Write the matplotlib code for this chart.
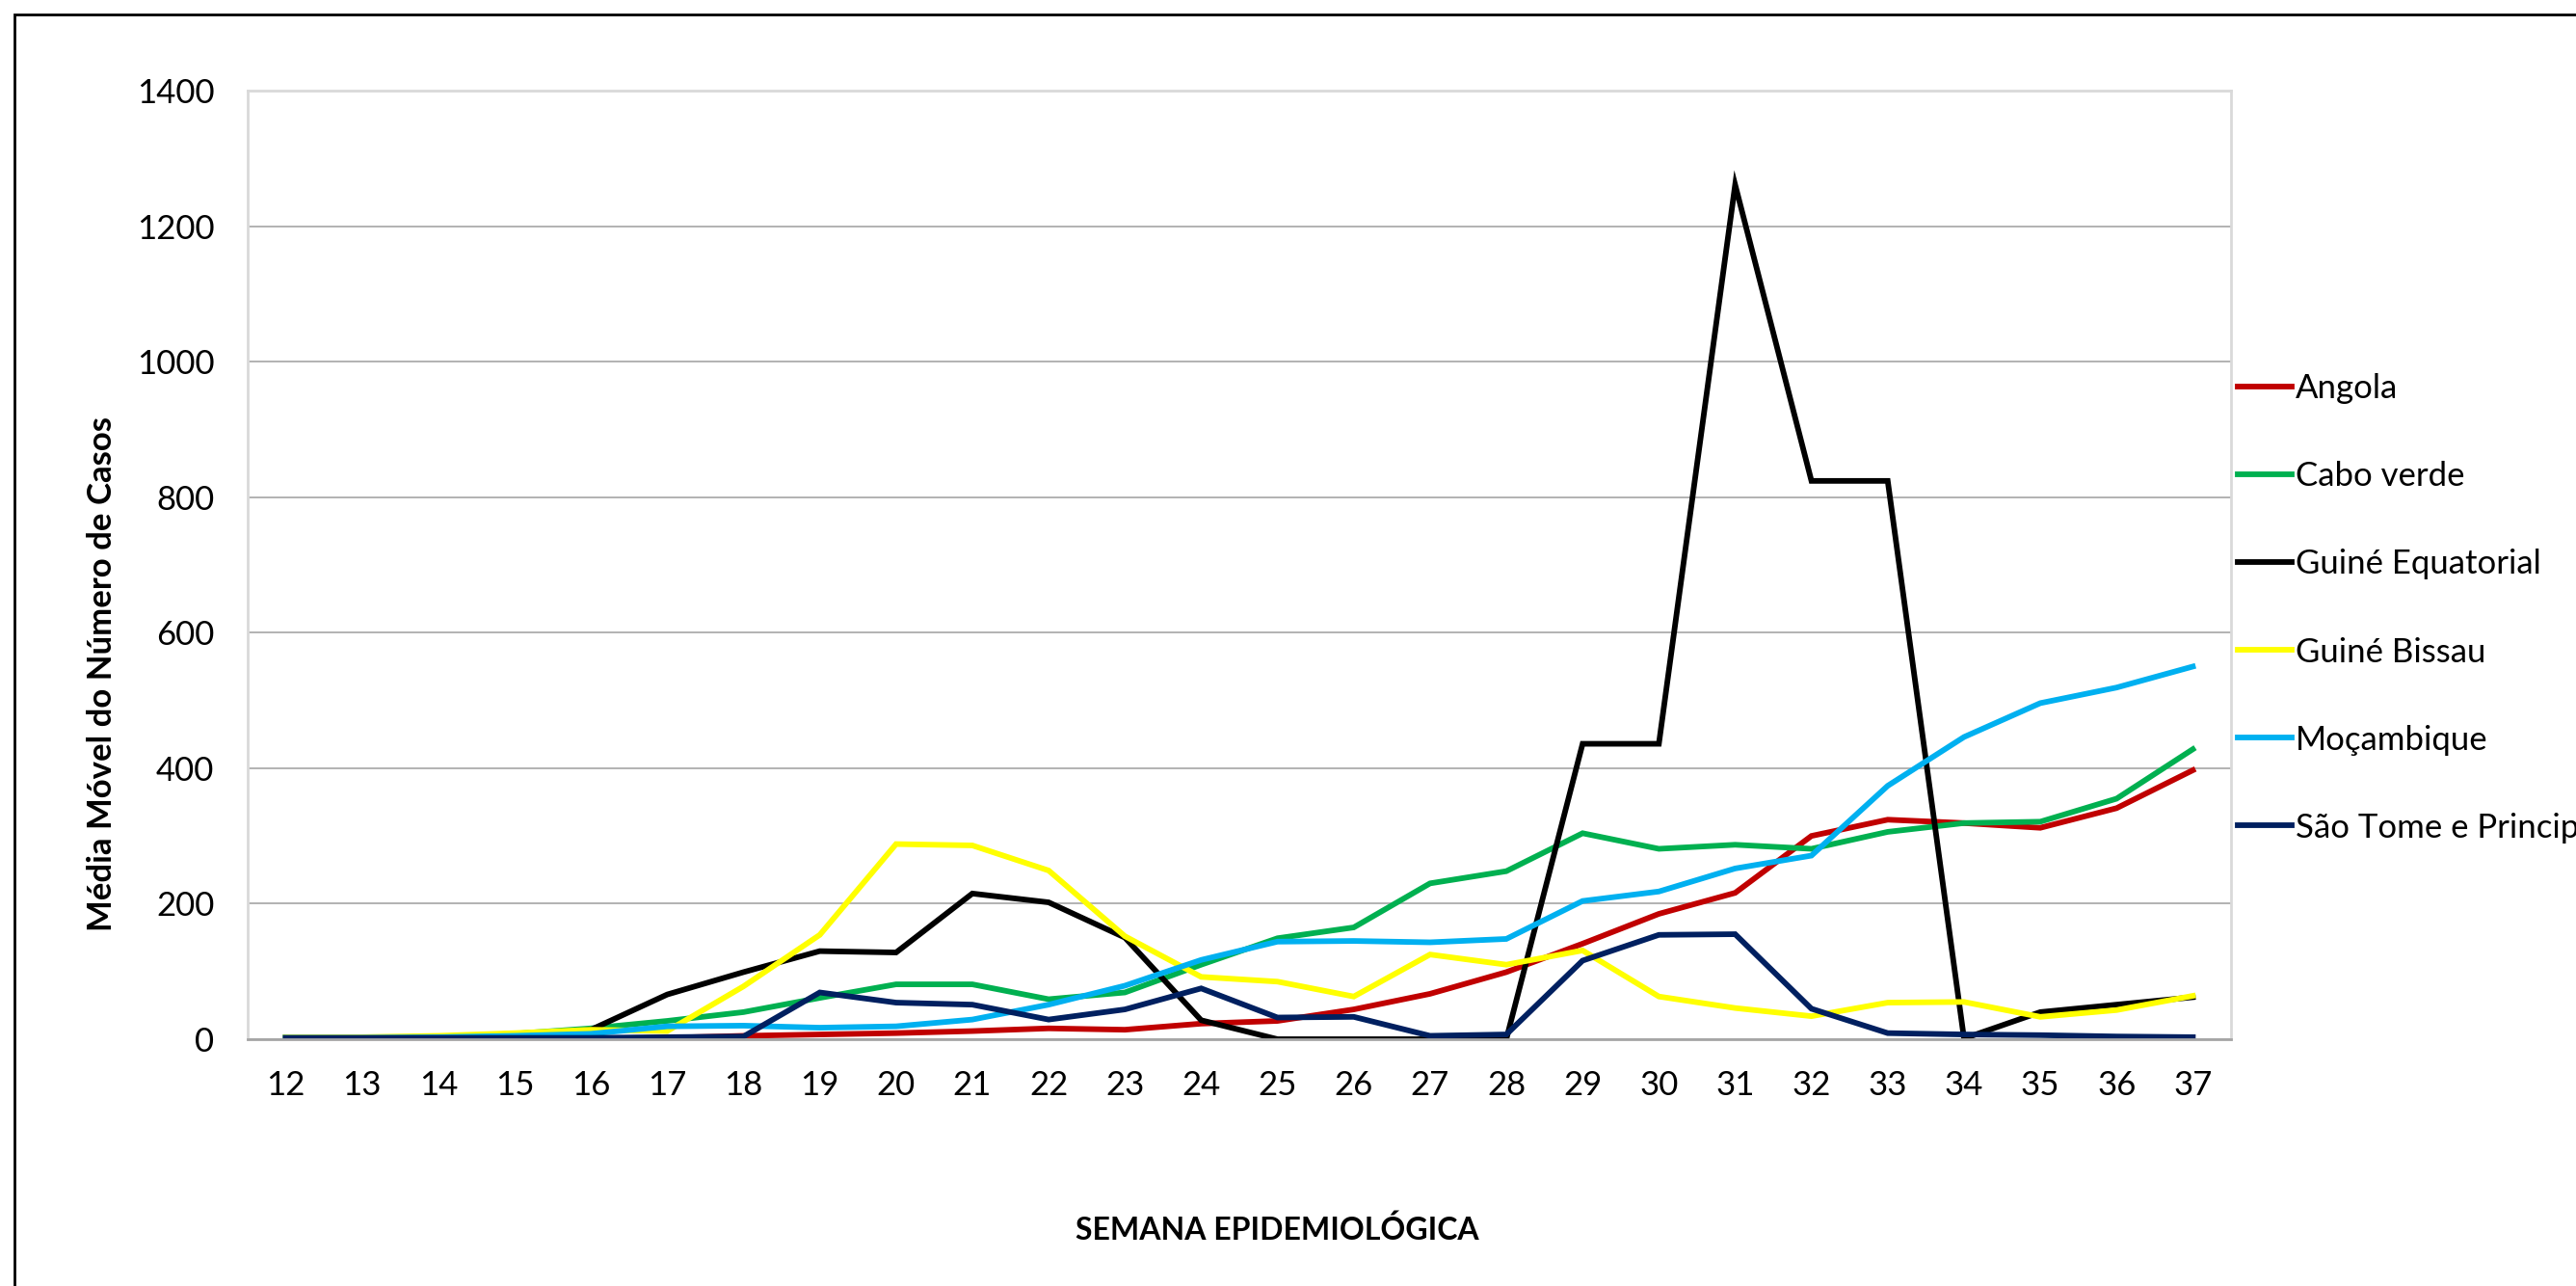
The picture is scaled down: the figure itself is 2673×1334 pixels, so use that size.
import matplotlib
matplotlib.use("Agg")
import matplotlib.pyplot as plt
from matplotlib.patches import Rectangle

# epidemiological weeks
weeks = list(range(12, 38))

angola = [1, 1, 1, 1, 1, 2, 5, 7, 9, 12, 16, 14, 23, 27, 44, 67, 99, 141, 185, 216,
          300, 324, 319, 312, 341, 397]
cabo_verde = [3, 2, 3, 8, 16, 27, 40, 61, 81, 81, 59, 69, 110, 149, 165, 230, 248, 304,
              281, 287, 281, 306, 319, 321, 355, 428]
guine_equatorial = [2, 2, 2, 2, 14, 66, 99, 130, 128, 215, 202, 150, 28, 0, 0, 0, 0, 436,
                    436, 1261, 824, 824, 1, 40, 51, 62]
guine_bissau = [3, 3, 5, 9, 14, 12, 78, 154, 288, 286, 249, 152, 92, 85, 63, 125, 110, 131,
                63, 46, 34, 54, 55, 33, 43, 64]
mocambique = [2, 2, 3, 5, 8, 19, 20, 17, 19, 29, 51, 79, 117, 144, 145, 143, 148, 204, 218,
              252, 271, 374, 446, 496, 519, 550]
sao_tome = [2, 2, 2, 2, 2, 3, 4, 69, 54, 51, 29, 44, 75, 32, 33, 5, 7, 116, 154, 155, 45, 9,
            7, 6, 4, 3]

series = [
    ("Angola", angola, "#C00000"),
    ("Cabo verde", cabo_verde, "#00B050"),
    ("Guiné Equatorial", guine_equatorial, "#000000"),
    ("Guiné Bissau", guine_bissau, "#FFFF00"),
    ("Moçambique", mocambique, "#00B0F0"),
    ("São Tome e Principe", sao_tome, "#002060"),
]

W, H = 2673, 1334
plt.rcParams['font.family'] = ['Lato', 'DejaVu Sans']
fs = 25

fig = plt.figure(figsize=(W / 100, H / 100), dpi=100)
ax = fig.add_axes([257 / W, 1 - 1078 / H, (2315 - 257) / W, (1078 - 94) / H])

x = list(range(len(weeks)))
for name, vals, col in series:
    ax.plot(x, vals, color=col, lw=4.2, label=name, solid_joinstyle='miter')

ax.set_xlim(-0.5, len(weeks) - 0.5)
ax.set_ylim(0, 1400)
ax.set_yticks(range(0, 1401, 200))
ax.set_xticks(x)
ax.set_xticklabels([str(w) for w in weeks])
ax.tick_params(axis='both', length=0, labelsize=fs)
ax.tick_params(axis='y', pad=25)
ax.tick_params(axis='x', pad=23)
ax.grid(axis='y', color='#a6a6a6', lw=1.2)
ax.set_axisbelow(True)
for s in ax.spines.values():
    s.set_color('#d9d9d9')
    s.set_linewidth(2)
ax.spines['bottom'].set_color('#a6a6a6')

fig.text(106 / W, 1 - 699 / H, "Média Móvel do Número de Casos", rotation=90,
         ha='center', va='center', fontsize=25, fontweight='bold')
fig.text(1325 / W, 1 - 1276 / H, "SEMANA EPIDEMIOLÓGICA", ha='center', va='center',
         fontsize=23, fontweight='bold')

ax.legend(loc='center left', bbox_to_anchor=(2322 / W, 1 - 631 / H),
          bbox_transform=fig.transFigure, frameon=False, fontsize=fs,
          borderaxespad=0, borderpad=0, handlelength=1.6, handletextpad=0.12,
          labelspacing=1.70)

# outer chart border (cropped at right and bottom)
fig.patches.append(Rectangle((15 / W, -0.05), 1.1, 1 - 15 / H + 0.05, fill=False,
                             edgecolor='black', lw=2, transform=fig.transFigure,
                             figure=fig))

fig.savefig("out.png", dpi=100)
